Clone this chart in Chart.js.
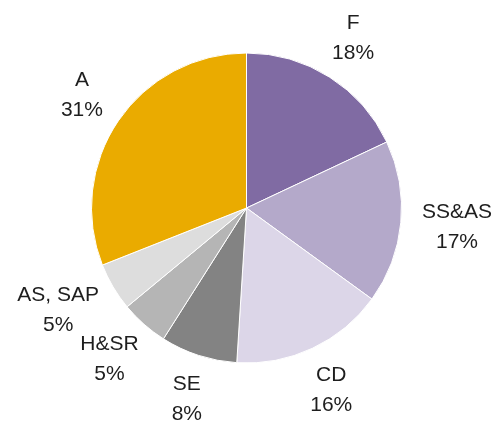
<!DOCTYPE html>
<html>
<head>
<meta charset="utf-8">
<script src="https://cdn.jsdelivr.net/npm/chart.js@4/dist/chart.umd.min.js"></script>
<style>
  html, body { margin: 0; padding: 0; background: #ffffff; }
  #wrap { width: 495px; height: 424px; position: relative; }
</style>
</head>
<body>
<div id="wrap"><canvas id="c" width="495" height="424"></canvas></div>
<script>
const categories = ["F", "SS&AS", "CD", "SE", "H&SR", "AS, SAP", "A"];
const shares = [18, 17, 16, 8, 5, 5, 31];
const percentLabels = ["18%", "17%", "16%", "8%", "5%", "5%", "31%"];
const sliceColors = ["#806BA3", "#B4A9CA", "#DCD6E8", "#838383", "#B5B5B5", "#DDDDDD", "#EAAB00"];

const outsideLabels = {
  id: "outsideLabels",
  afterDraw(chart) {
    const ctx = chart.ctx;
    const meta = chart.getDatasetMeta(0);
    const lineGap = 30;
    const boxH = 46;
    const gap = 23;
    ctx.save();
    ctx.font = "21px 'Liberation Sans', Arial, sans-serif";
    ctx.fillStyle = "#1e1e1e";
    ctx.textAlign = "center";
    ctx.textBaseline = "middle";
    meta.data.forEach((arc, i) => {
      const p = arc.getProps(["x", "y", "startAngle", "endAngle", "outerRadius"], true);
      const mid = (p.startAngle + p.endAngle) / 2;
      const ux = Math.cos(mid), uy = Math.sin(mid);
      const w = Math.max(ctx.measureText(categories[i]).width, ctx.measureText(percentLabels[i]).width);
      let cx = p.x + ux * (p.outerRadius + gap) + ux * w / 2;
      let cy = p.y + uy * (p.outerRadius + gap) + uy * boxH / 2;
      cx = Math.min(Math.max(cx, w / 2 + 3), chart.width - w / 2 - 3);
      cy = Math.min(Math.max(cy, boxH / 2 - 2), chart.height - boxH / 2 + 1);
      ctx.fillText(categories[i], cx, cy - lineGap / 2);
      ctx.fillText(percentLabels[i], cx, cy + lineGap / 2);
    });
    ctx.restore();
  }
};

new Chart(document.getElementById("c"), {
  type: "pie",
  data: {
    labels: categories,
    datasets: [{
      data: shares,
      backgroundColor: sliceColors,
      borderColor: "#ffffff",
      borderWidth: 1
    }]
  },
  options: {
    responsive: false,
    animation: false,
    layout: { padding: { top: 52, bottom: 60, left: 91, right: 93 } },
    plugins: {
      legend: { display: false },
      tooltip: { enabled: false }
    }
  },
  plugins: [outsideLabels]
});
</script>
</body>
</html>
